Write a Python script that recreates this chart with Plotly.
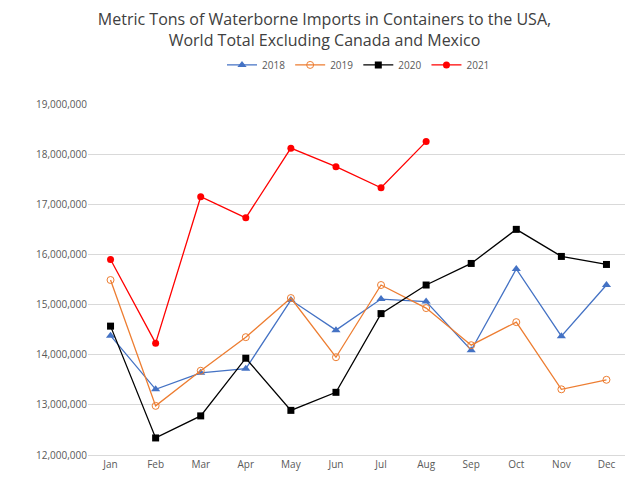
import plotly.graph_objects as go

months = ["Jan","Feb","Mar","Apr","May","Jun","Jul","Aug","Sep","Oct","Nov","Dec"]
y2018 = [14.38,13.31,13.64,13.72,15.09,14.49,15.11,15.06,14.09,15.71,14.37,15.39]
y2019 = [15.49,12.98,13.68,14.35,15.13,13.95,15.39,14.93,14.19,14.65,13.31,13.50]
y2020 = [14.57,12.34,12.78,13.93,12.89,13.25,14.82,15.39,15.82,16.50,15.96,15.80]
y2021 = [15.90,14.23,17.15,16.73,18.12,17.75,17.33,18.25]

def m(v): return [x*1e6 for x in v]

fig = go.Figure()
fig.add_trace(go.Scatter(x=months, y=m(y2018), name="2018", mode="lines+markers",
    line=dict(color="#4472C4", width=1.3), marker=dict(symbol="triangle-up", size=8, color="#4472C4")))
fig.add_trace(go.Scatter(x=months, y=m(y2019), name="2019", mode="lines+markers",
    line=dict(color="#ED7D31", width=1.3), marker=dict(symbol="circle-open", size=7, color="#ED7D31")))
fig.add_trace(go.Scatter(x=months, y=m(y2020), name="2020", mode="lines+markers",
    line=dict(color="#000000", width=1.3), marker=dict(symbol="square", size=7, color="#000000")))
fig.add_trace(go.Scatter(x=months[:len(y2021)], y=m(y2021), name="2021", mode="lines+markers",
    line=dict(color="#FF0000", width=1.3), marker=dict(symbol="circle", size=7, color="#FF0000")))

fig.update_layout(
    width=633, height=481, paper_bgcolor="white", plot_bgcolor="white",
    font=dict(family="Open Sans, Liberation Sans, sans-serif", color="#595959", size=10),
    title=dict(text="Metric Tons of Waterborne Imports in Containers to the USA,<br>World Total Excluding Canada and Mexico",
               x=0.5, xanchor="center", y=0.965, yanchor="top", font=dict(size=16, color="#404040")),
    legend=dict(orientation="h", x=0.5, xanchor="center", y=1.07, yanchor="bottom", font=dict(size=10)),
    margin=dict(l=80, r=12, t=96, b=34),
    showlegend=True,
)
fig.update_xaxes(range=[-0.5, 11.5], showline=True, linecolor="#D9D9D9", showgrid=False, ticks="",
                 tickfont=dict(size=10), automargin=False)
fig.update_yaxes(range=[12e6, 19e6], dtick=1e6, tickformat=",.0f", showgrid=True, gridcolor="#D9D9D9",
                 zeroline=False, tickfont=dict(size=10), automargin=False)
fig.write_html("out.html")
